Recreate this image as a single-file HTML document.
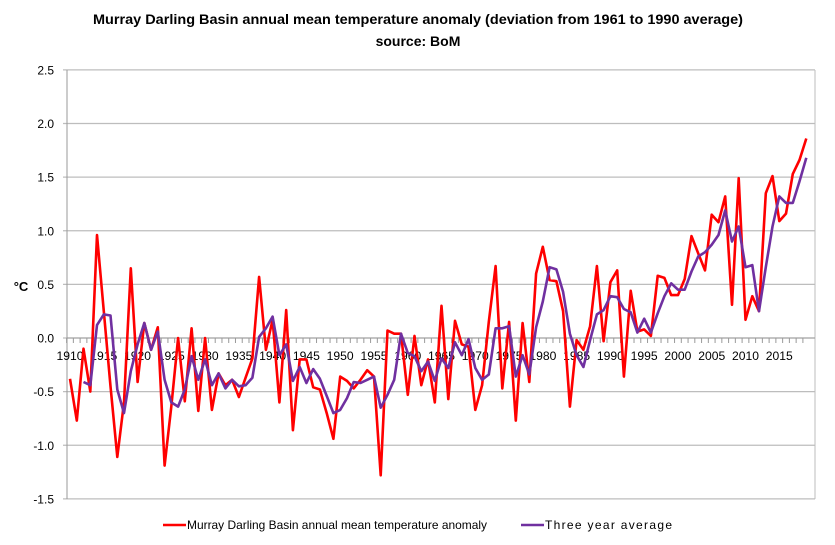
<!DOCTYPE html>
<html><head><meta charset="utf-8"><style>
body{margin:0;background:#fff;}
svg{display:block;font-family:"Liberation Sans",sans-serif;}
</style></head><body>
<svg id="chart" width="835" height="545" viewBox="0 0 835 545">
<text x="418" y="24" text-anchor="middle" font-size="14" font-weight="bold" textLength="650" lengthAdjust="spacingAndGlyphs">Murray Darling Basin annual mean temperature anomaly (deviation from 1961 to 1990 average)</text>
<text x="418" y="46" text-anchor="middle" font-size="14" font-weight="bold">source: BoM</text>
<text x="21" y="291" text-anchor="middle" font-size="13" font-weight="bold">°C</text>
<g id="grid"></g><g id="series"></g>
<g>
<line x1="163" y1="525" x2="186" y2="525" stroke="#ff0000" stroke-width="2.5"/>
<text x="187" y="529" font-size="12" textLength="300" lengthAdjust="spacingAndGlyphs">Murray Darling Basin annual mean temperature anomaly</text>
<line x1="521" y1="525" x2="544" y2="525" stroke="#7030a0" stroke-width="2.5"/>
<text x="545" y="529" font-size="12" textLength="127" lengthAdjust="spacing">Three year average</text>
</g>
</svg>
<script>
const years = [];
for (let y = 1910; y <= 2019; y++) years.push(y);
const anomaly = [-0.38,-0.77,-0.10,-0.50,0.96,0.25,-0.45,-1.11,-0.60,0.65,
-0.41,0.14,-0.11,0.10,-1.19,-0.64,0.0,-0.59,0.09,-0.68,
0.0,-0.67,-0.33,-0.44,-0.39,-0.55,-0.37,-0.19,0.57,-0.11,
0.17,-0.60,0.26,-0.86,-0.20,-0.20,-0.46,-0.48,-0.70,-0.94,
-0.36,-0.40,-0.47,-0.39,-0.30,-0.36,-1.28,0.07,0.04,0.04,
-0.53,0.02,-0.44,-0.20,-0.60,0.30,-0.57,0.16,-0.06,-0.08,
-0.67,-0.44,0.15,0.67,-0.47,0.15,-0.77,0.14,-0.41,0.60,
0.85,0.54,0.53,0.25,-0.64,-0.02,-0.11,0.11,0.67,-0.03,
0.52,0.63,-0.36,0.44,0.06,0.08,0.02,0.58,0.56,0.40,
0.40,0.55,0.95,0.79,0.63,1.15,1.08,1.32,0.31,1.49,
0.17,0.39,0.25,1.35,1.51,1.09,1.16,1.53,1.66,1.86];
const avgStartYear = 1912;
const threeYearAvg = [-0.41,-0.44,0.12,0.22,0.21,-0.48,-0.70,-0.31,
-0.06,0.14,-0.11,0.06,-0.39,-0.60,-0.64,-0.48,-0.17,-0.39,
-0.20,-0.44,-0.33,-0.47,-0.39,-0.45,-0.44,-0.37,0.01,0.09,
0.20,-0.16,-0.06,-0.40,-0.27,-0.42,-0.29,-0.38,-0.54,-0.70,
-0.67,-0.56,-0.41,-0.42,-0.39,-0.36,-0.65,-0.53,-0.39,0.04,
-0.14,-0.17,-0.31,-0.22,-0.40,-0.19,-0.28,-0.04,-0.16,-0.01,
-0.28,-0.39,-0.34,0.09,0.09,0.11,-0.36,-0.16,-0.34,0.10,
0.34,0.66,0.64,0.43,0.04,-0.16,-0.27,-0.02,0.22,0.26,
0.39,0.38,0.27,0.24,0.05,0.18,0.05,0.23,0.39,0.51,
0.45,0.45,0.62,0.76,0.80,0.87,0.96,1.19,0.90,1.04,
0.66,0.68,0.25,0.66,1.04,1.32,1.26,1.26,1.46,1.68];
const yTicks = [2.5,2.0,1.5,1.0,0.5,0.0,-0.5,-1.0,-1.5];
const xLabelYears = [1910,1915,1920,1925,1930,1935,1940,1945,1950,1955,1960,1965,1970,1975,1980,1985,1990,1995,2000,2005,2010,2015];

const NS = "http://www.w3.org/2000/svg";
const L = 67, R = 815;
const xs = yr => 70 + (yr - 1910) * 6.755;
const ys = v => 338 - v * 107.25;
function mk(tag, attrs, parent) {
  const e = document.createElementNS(NS, tag);
  for (const k in attrs) e.setAttribute(k, attrs[k]);
  parent.appendChild(e); return e;
}
const grid = document.getElementById('grid');
const series = document.getElementById('series');
yTicks.forEach(v => {
  const g = mk('line', {x1: 63, x2: R, y1: ys(v), y2: ys(v), stroke: '#bdbdbd', 'stroke-width': 1.2}, grid);
  
  
  const t = mk('text', {x: 54, y: ys(v) + 4.5, 'text-anchor': 'end', 'font-size': 12}, grid);
  
  
  t.textContent = v.toFixed(1);
});
const ax = mk('line', {x1: L, x2: L, y1: 70, y2: 499, stroke: '#9a9a9a', 'stroke-width': 1}, grid);


const rb = mk('line', {x1: R, x2: R, y1: 70, y2: 499, stroke: '#bdbdbd', 'stroke-width': 1}, grid);


const xa = mk('line', {x1: L, x2: R, y1: ys(0), y2: ys(0), stroke: '#9a9a9a', 'stroke-width': 1}, grid);


years.forEach(yr => {
  const tk = mk('line', {x1: xs(yr) - 3.4, x2: xs(yr) - 3.4, y1: ys(0), y2: ys(0) + 5, stroke: '#9a9a9a', 'stroke-width': 1}, grid);
  
  
});
xLabelYears.forEach(yr => {
  const t = mk('text', {x: xs(yr), y: ys(0) + 22, 'text-anchor': 'middle', 'font-size': 12, textLength: 27, lengthAdjust: 'spacingAndGlyphs'}, grid);
  
  
  t.textContent = yr;
});
const redPts = anomaly.map((v, i) => xs(years[i]).toFixed(1) + ',' + ys(v).toFixed(1)).join(' ');
const red = mk('polyline', {points: redPts, fill: 'none', stroke: '#ff0000', 'stroke-width': 2.6, 'stroke-linejoin': 'round'}, series);


const purPts = threeYearAvg.map((v, i) => xs(avgStartYear + i).toFixed(1) + ',' + ys(v).toFixed(1)).join(' ');
const pur = mk('polyline', {points: purPts, fill: 'none', stroke: '#7030a0', 'stroke-width': 2.6, 'stroke-linejoin': 'round'}, series);


</script>
</body></html>
